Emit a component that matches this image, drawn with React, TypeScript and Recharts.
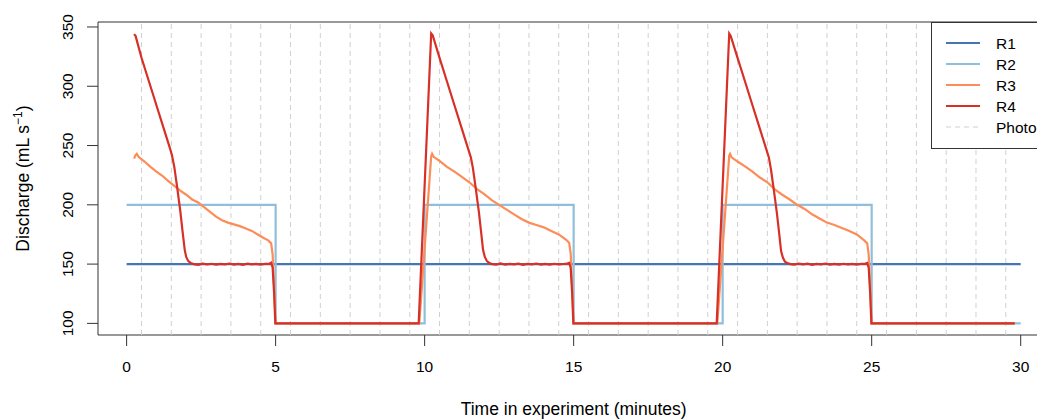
import { LineChart, Line, XAxis, YAxis, ReferenceLine, ReferenceArea, Legend } from "recharts";

const FONT = '"Liberation Sans", Arial, Helvetica, sans-serif';

const xTicks = [0, 5, 10, 15, 20, 25, 30];
const yTicks = [100, 150, 200, 250, 300, 350];

// minutes at which a photo was taken
const photoTimes = [
  0.5, 1.5, 2.5, 3.5, 4.5, 5.5, 6.5, 7.5, 8.5, 9.5, 10.5, 11.5, 12.5, 13.5, 14.5,
  15.5, 16.5, 17.5, 18.5, 19.5, 20.5, 21.5, 22.5, 23.5, 24.5, 25.5, 26.5, 27.5, 28.5, 29.5,
];

// [minute, discharge]
const r1Points: [number, number][] = [
  [0, 150], [30, 150],
];

const r2Points: [number, number][] = [
  [0, 200], [5, 200], [5, 100], [10, 100], [10, 200], [15, 200],
  [15, 100], [20, 100], [20, 200], [25, 200], [25, 100], [30, 100],
];

const r3Points: [number, number][] = [
  [0.25, 239], [0.3, 242], [0.34, 243], [0.4, 240.5], [0.6, 236.5], [0.8, 232], [1.0, 228],
  [1.2, 224.5], [1.4, 220], [1.6, 216], [1.8, 212], [2.0, 208.5], [2.2, 204.5], [2.4, 202],
  [2.6, 198], [2.8, 194], [3.0, 190], [3.2, 187], [3.4, 185], [3.6, 183.5], [3.8, 182],
  [4.0, 180], [4.2, 178], [4.4, 175], [4.6, 172], [4.75, 170], [4.85, 167.5], [4.9, 158],
  [4.95, 130], [5.0, 100], [9.82, 100],
  [10.22, 241], [10.25, 243], [10.3, 240.5], [10.5, 237], [10.75, 232], [11.0, 228],
  [11.25, 223.5], [11.5, 219], [11.75, 213.5], [12.0, 209], [12.25, 204], [12.5, 200],
  [12.75, 196], [13.0, 192], [13.25, 188], [13.5, 185], [13.75, 183], [14.0, 181],
  [14.25, 178], [14.5, 175], [14.75, 170.5], [14.85, 168], [14.9, 159], [14.95, 130],
  [15.0, 100], [19.82, 100],
  [20.22, 241.5], [20.25, 243], [20.3, 240], [20.5, 236.5], [20.75, 232.5], [21.0, 228],
  [21.25, 223], [21.5, 219], [21.75, 213], [22.0, 208.5], [22.25, 204.5], [22.5, 200],
  [22.75, 196.5], [23.0, 192], [23.25, 188.5], [23.5, 185], [23.75, 183], [24.0, 180.5],
  [24.25, 178], [24.5, 175], [24.75, 170], [24.85, 167.5], [24.9, 158], [24.95, 130],
  [25.0, 100], [29.8, 100],
];

const r4Points: [number, number][] = [
  [0.25, 344], [0.3, 342.5], [0.5, 324], [0.75, 304], [1.0, 284], [1.25, 264], [1.45, 248],
  [1.52, 242], [1.6, 232], [1.7, 214], [1.8, 195], [1.88, 177], [1.95, 162], [2.0, 156],
  [2.07, 152.5], [2.15, 151], [2.25, 150], [2.4, 149.4], [2.55, 150.4], [2.7, 149.7],
  [2.85, 150.3], [3.0, 149.5], [3.15, 150.2], [3.3, 149.8], [3.45, 150.5], [3.6, 149.6],
  [3.75, 150.1], [3.9, 149.3], [4.05, 150.4], [4.2, 149.7], [4.35, 150.2], [4.5, 149.5],
  [4.65, 150.3], [4.78, 150.2], [4.85, 151.2], [4.9, 147], [4.95, 125], [4.99, 100],
  [9.8, 100],
  [10.22, 344.5], [10.27, 343], [10.5, 324], [10.75, 304], [11.0, 284], [11.25, 264],
  [11.45, 248], [11.55, 240], [11.62, 231], [11.72, 213], [11.82, 194], [11.9, 176],
  [11.96, 162], [12.02, 156], [12.09, 152.5], [12.17, 151], [12.27, 150], [12.4, 149.6],
  [12.55, 150.5], [12.7, 149.5], [12.85, 150.2], [13.0, 149.7], [13.15, 150.4], [13.3, 149.4],
  [13.45, 150.1], [13.6, 149.8], [13.75, 150.5], [13.9, 149.6], [14.05, 150.2], [14.2, 149.5],
  [14.35, 150.3], [14.5, 149.8], [14.65, 150.1], [14.78, 150.4], [14.85, 151], [14.9, 147],
  [14.95, 125], [14.99, 100], [19.8, 100],
  [20.22, 344.5], [20.27, 342.5], [20.5, 324], [20.75, 304], [21.0, 284], [21.25, 264],
  [21.45, 248], [21.55, 240], [21.62, 230], [21.72, 212], [21.82, 193], [21.9, 175],
  [21.96, 161], [22.02, 155.5], [22.09, 152], [22.17, 151], [22.27, 150], [22.4, 149.5],
  [22.55, 150.4], [22.7, 149.7], [22.85, 150.3], [23.0, 149.4], [23.15, 150.2], [23.3, 149.8],
  [23.45, 150.5], [23.6, 149.6], [23.75, 150.2], [23.9, 149.5], [24.05, 150.3], [24.2, 149.7],
  [24.35, 150.1], [24.5, 149.6], [24.65, 150.3], [24.78, 150.2], [24.85, 151], [24.9, 147],
  [24.95, 125], [24.99, 100], [29.8, 100],
];

const series = [
  { name: "R1", color: "#4575b4", points: r1Points },
  { name: "R2", color: "#91bfdb", points: r2Points },
  { name: "R3", color: "#fc8d59", points: r3Points },
  { name: "R4", color: "#d73027", points: r4Points },
];

const PHOTO_COLOR = "#d0d0d0";
const X_DOMAIN: [number, number] = [-0.96, 30.96];
const Y_DOMAIN: [number, number] = [90.2, 354.2];

function YTick({ x, y, payload }: any) {
  return (
    <text
      x={x}
      y={y}
      transform={`rotate(-90 ${x} ${y})`}
      textAnchor="middle"
      fontSize={15.5}
      fontFamily={FONT}
      fill="#000"
    >
      {payload.value}
    </text>
  );
}

function XTick({ x, y, payload }: any) {
  return (
    <text x={x} y={y} textAnchor="middle" fontSize={15.5} fontFamily={FONT} fill="#000">
      {payload.value}
    </text>
  );
}

function XTitle({ viewBox }: any) {
  const vb = viewBox ?? { x: 98, y: 335, width: 951, height: 84 };
  return (
    <text x={vb.x + vb.width / 2} y={vb.y + 80} textAnchor="middle" fontSize={17.5} fontFamily={FONT} fill="#000">
      Time in experiment (minutes)
    </text>
  );
}

function YTitle({ viewBox }: any) {
  const vb = viewBox ?? { x: 0, y: 22, width: 98, height: 313 };
  const cx = vb.x + 29;
  const cy = vb.y + vb.height / 2;
  return (
    <text x={cx} y={cy} transform={`rotate(-90 ${cx} ${cy})`} textAnchor="middle" fontSize={17.5} fontFamily={FONT} fill="#000">
      Discharge (mL s
      <tspan dy={-7} fontSize={12}>{"\u2212"}1</tspan>
      <tspan dy={7}>)</tspan>
    </text>
  );
}

function PlotLegend() {
  const items = [
    ...series.map((s) => ({ name: s.name, color: s.color, dashed: false })),
    { name: "Photo", color: PHOTO_COLOR, dashed: true },
  ];
  return (
    <svg width={140} height={128} style={{ display: "block", overflow: "visible" }}>
      <rect x={0.5} y={0.5} width={200} height={126} fill="#fff" stroke="#333" />
      {items.map((item, i) => {
        const y = 21 + i * 21;
        return (
          <g key={item.name}>
            <line
              x1={15}
              x2={49}
              y1={y}
              y2={y}
              stroke={item.color}
              strokeWidth={item.dashed ? 1 : 2.2}
              strokeDasharray={item.dashed ? "5 4" : undefined}
            />
            <text x={65} y={y + 5.5} fontSize={15.5} fontFamily={FONT} fill="#000">
              {item.name}
            </text>
          </g>
        );
      })}
    </svg>
  );
}

export default function App() {
  return (
    <div
      style={{
        position: "fixed",
        left: 0,
        top: 0,
        width: 1037,
        height: 419,
        overflow: "hidden",
        background: "#fff",
        fontFamily: FONT,
      }}
    >
      <LineChart width={1070} height={419} margin={{ top: 22, right: 20.7, bottom: 0, left: 0 }}>
        <XAxis
          type="number"
          dataKey="t"
          domain={X_DOMAIN}
          ticks={xTicks}
          allowDataOverflow
          height={84}
          axisLine={false}
          tickSize={11}
          tickMargin={25.5}
          tickLine={{ stroke: "#333" }}
          tick={<XTick />}
          label={{ content: <XTitle /> }}
        />
        <YAxis
          type="number"
          dataKey="v"
          domain={Y_DOMAIN}
          ticks={yTicks}
          allowDataOverflow
          width={98}
          axisLine={false}
          tickSize={11}
          tickMargin={13.5}
          tickLine={{ stroke: "#333" }}
          tick={<YTick />}
          label={{ content: <YTitle /> }}
        />
        {photoTimes.map((t) => (
          <ReferenceLine key={t} x={t} stroke={PHOTO_COLOR} strokeWidth={1} strokeDasharray="5 4" />
        ))}
        <ReferenceArea
          x1={X_DOMAIN[0]}
          x2={X_DOMAIN[1]}
          y1={Y_DOMAIN[0]}
          y2={Y_DOMAIN[1]}
          fill="none"
          fillOpacity={0}
          stroke="#333"
          strokeWidth={1}
        />
        {series.map((s) => (
          <Line
            key={s.name}
            name={s.name}
            data={s.points.map(([t, v]) => ({ t, v }))}
            dataKey="v"
            type="linear"
            stroke={s.color}
            strokeWidth={2.2}
            dot={false}
            activeDot={false}
            isAnimationActive={false}
          />
        ))}
        <Legend
          layout="vertical"
          align="center"
          verticalAlign="middle"
          wrapperStyle={{ left: 931, top: 22, width: 140, height: 128 }}
          content={<PlotLegend />}
        />
      </LineChart>
    </div>
  );
}
